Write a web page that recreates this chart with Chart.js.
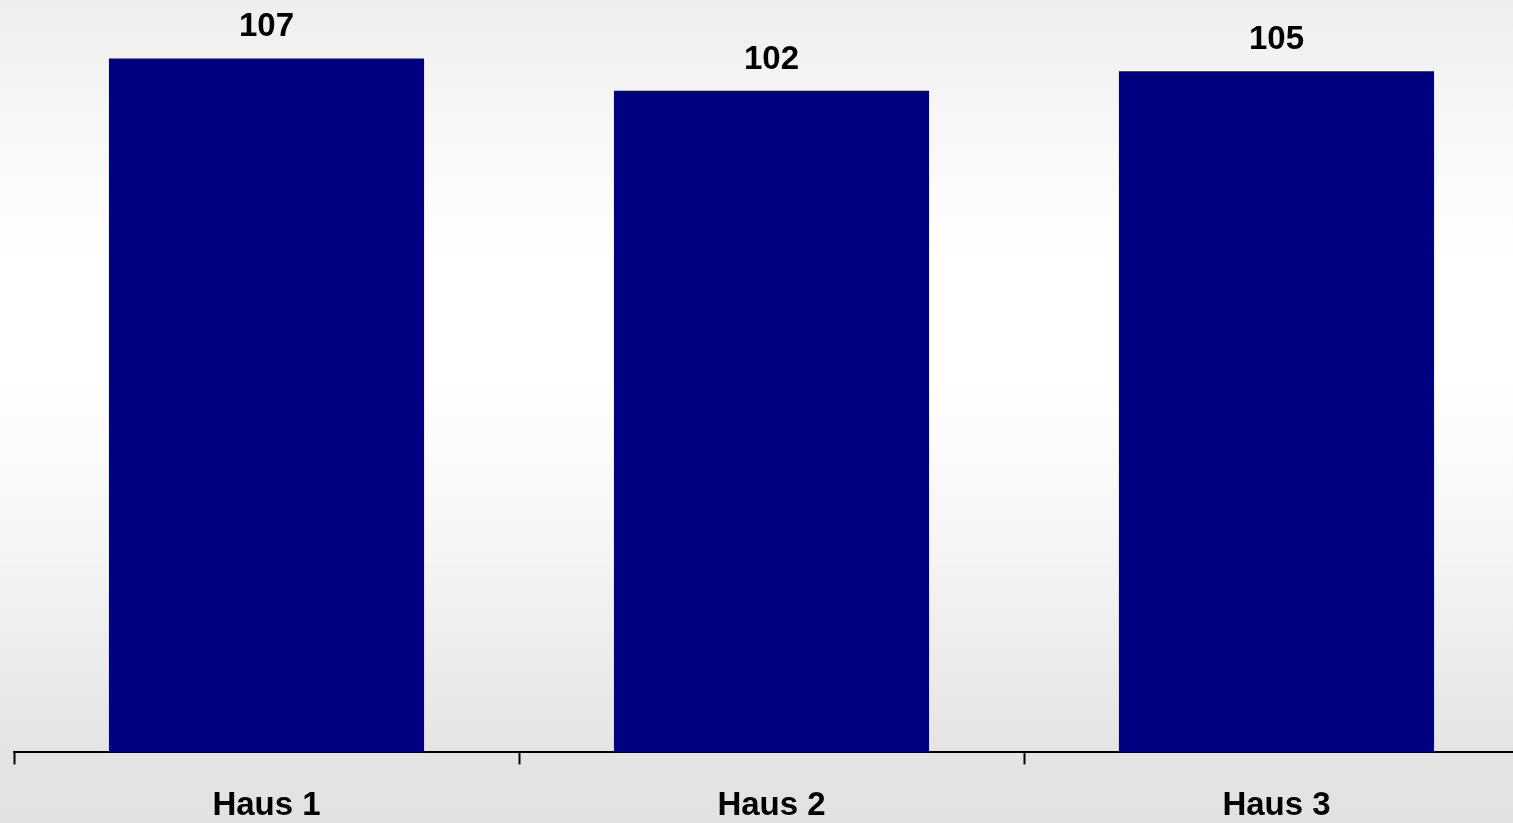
<!DOCTYPE html>
<html>
<head>
<meta charset="utf-8">
<script src="https://cdn.jsdelivr.net/npm/chart.js@4"></script>
<style>
  html, body { margin: 0; padding: 0; overflow: hidden; width: 1513px; height: 823px; }
  body {
    background: linear-gradient(to bottom,
      #eeeeee 0px, #f7f7f7 120px, #ffffff 260px, #ffffff 380px,
      #f5f5f5 550px, #e4e4e4 750px, #e2e2e2 823px);
  }
  #wrap { position: absolute; left: 0; top: 0; width: 1540px; height: 848px; }
</style>
</head>
<body>
<div id="wrap"><canvas id="c" width="1540" height="848"></canvas></div>
<script>
const categories = ['Haus 1', 'Haus 2', 'Haus 3'];
const values = [107, 102, 105];
const yMin = 0;
const yMax = 116;

const FAMILY = '"Liberation Sans", Arial, sans-serif';
const FONT = 'bold 33px ' + FAMILY;

// Writes each bar's value above it, using the y scale for placement
const valueLabels = {
  id: 'valueLabels',
  afterDatasetsDraw(chart) {
    const ctx = chart.ctx;
    const meta = chart.getDatasetMeta(0);
    ctx.save();
    ctx.font = FONT;
    ctx.fillStyle = '#000000';
    ctx.textAlign = 'center';
    ctx.textBaseline = 'alphabetic';
    meta.data.forEach((bar, i) => {
      ctx.fillText(String(values[i]), bar.x, bar.y - 22);
    });
    ctx.restore();
  }
};

new Chart(document.getElementById('c'), {
  type: 'bar',
  data: {
    labels: categories,
    datasets: [{
      data: values,
      backgroundColor: '#000080',
      borderWidth: 0,
      categoryPercentage: 1.0,
      barPercentage: 0.624
    }]
  },
  options: {
    responsive: false,
    animation: false,
    layout: { padding: { left: 14, right: 11, top: 0, bottom: 0 } },
    plugins: { legend: { display: false }, tooltip: { enabled: false } },
    scales: {
      y: { display: false, min: yMin, max: yMax },
      x: {
        grid: {
          offset: true,
          drawOnChartArea: false,
          drawTicks: true,
          tickLength: 12,
          tickWidth: 2,
          tickColor: '#000000'
        },
        border: { color: '#000000', width: 2 },
        ticks: {
          color: '#000000',
          padding: 22,
          font: { family: FAMILY, size: 33, weight: 'bold' }
        }
      }
    }
  },
  plugins: [valueLabels]
});
</script>
</body>
</html>
